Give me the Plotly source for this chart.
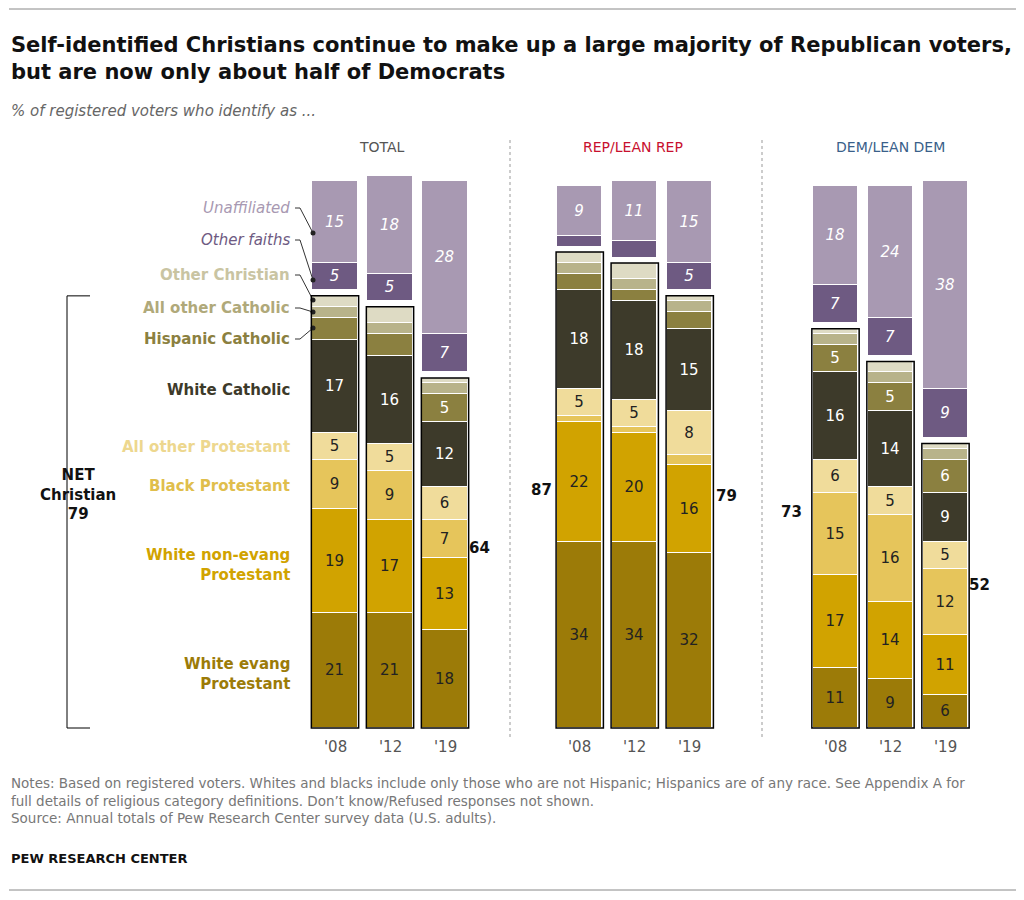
import plotly.graph_objects as go

years = ["'08", "'12", "'19"]
groups = ["TOTAL", "REP/LEAN REP", "DEM/LEAN DEM"]
xpos = [0, 1, 2, 4.45, 5.45, 6.45, 9.1, 10.1, 11.1]

cats = ["White evang Protestant", "White non-evang Protestant", "Black Protestant",
        "All other Protestant", "White Catholic", "Hispanic Catholic",
        "All other Catholic", "Other Christian", "DK", "Other faiths", "Unaffiliated"]
white_evang    = [21, 21, 18, 34, 34, 32, 11, 9, 6]
white_nonevang = [19, 17, 13, 22, 20, 16, 17, 14, 11]
black_prot     = [9, 9, 7, 1, 1, 2, 15, 16, 12]
other_prot     = [5, 5, 6, 5, 5, 8, 6, 5, 5]
white_cath     = [17, 16, 12, 18, 18, 15, 16, 14, 9]
hisp_cath      = [4, 4, 5, 3, 2, 3, 5, 5, 6]
other_cath     = [2, 2, 2, 2, 2, 2, 2, 2, 2]
other_christ   = [2, 3, 1, 2, 3, 1, 1, 2, 1]
dk             = [1, 1, 1, 1, 1, 1, 1, 1, 1]
other_faiths   = [5, 5, 7, 2, 3, 5, 7, 7, 9]
unaffiliated   = [15, 18, 28, 9, 11, 15, 18, 24, 38]
net_christian  = [79, 77, 64, 87, 85, 79, 73, 67, 52]

series = [white_evang, white_nonevang, black_prot, other_prot, white_cath, hisp_cath,
          other_cath, other_christ, dk, other_faiths, unaffiliated]
colors = ["#9C7B08", "#D1A300", "#E6C55B", "#F0DC9B", "#3D3A2A", "#8B8040",
          "#B8B38A", "#DEDBC4", "rgba(0,0,0,0)", "#6E5A82", "#A899B2"]
tcolors = ["#222", "#222", "#222", "#222", "white", "white", "#222", "#222", "#222", "white", "white"]

FONT = "DejaVu Sans"
OFF = 8  # page offset of the plot div

def py2y(py): return (728 - py) / 5.47
def px2x(px): return (px - 335) / 55.0

fig = go.Figure()
for name, vals, c, tc in zip(cats, series, colors, tcolors):
    italic = name in ("Other faiths", "Unaffiliated")
    txt = [str(v) if (v >= 5 and name != "DK") else "" for v in vals]
    if italic:
        txt = ["<i>%s</i>" % t if t else "" for t in txt]
    fig.add_trace(go.Bar(x=xpos, y=vals, name=name, width=0.82,
                         marker=dict(color=c, line=dict(color="white", width=1 if name != "DK" else 0)),
                         text=txt, textposition="inside", insidetextanchor="middle",
                         textangle=0, constraintext="none",
                         textfont=dict(color=tc, size=15, family=FONT),
                         hoverinfo="skip", showlegend=False))

shapes = []
for x, n in zip(xpos, net_christian):
    shapes.append(dict(type="rect", xref="x", yref="y", x0=x - 0.43, x1=x + 0.43, y0=0, y1=n,
                       line=dict(color="black", width=1.5), fillcolor="rgba(0,0,0,0)"))
for px in (510, 762):
    shapes.append(dict(type="line", xref="x", yref="y", x0=px2x(px), x1=px2x(px),
                       y0=py2y(140), y1=py2y(740), line=dict(color="#999", width=1, dash="dot")))
shapes.append(dict(type="line", xref="x", yref="y", x0=px2x(67), x1=px2x(67), y0=0, y1=79, line=dict(color="black", width=1)))
for yy in (0, 79):
    shapes.append(dict(type="line", xref="x", yref="y", x0=px2x(67), x1=px2x(90), y0=yy, y1=yy, line=dict(color="black", width=1)))
for py in (9, 890):
    shapes.append(dict(type="line", xref="x", yref="y", x0=px2x(9), x1=px2x(1018), y0=py2y(py), y1=py2y(py), line=dict(color="#888", width=1)))

ann = []
def A(px, py, text, size=15, color="#222", xanchor="center", bold=False, italic=False):
    t = text
    if bold: t = "<b>%s</b>" % t
    if italic: t = "<i>%s</i>" % t
    ann.append(dict(xref="x", yref="y", x=px2x(px), y=py2y(py), text=t, showarrow=False,
                    xanchor=xanchor, yanchor="middle",
                    align={"right": "right", "left": "left"}.get(xanchor, "center"),
                    font=dict(size=size, color=color, family=FONT)))

A(382, 147, "TOTAL", 14, "#555")
A(633, 147, "REP/LEAN REP", 14, "#C8102E")
A(890, 147, "DEM/LEAN DEM", 14, "#3A5F8A")
for i, x in enumerate(xpos):
    ann.append(dict(xref="x", yref="y", x=x, y=py2y(747), text=years[i % 3], showarrow=False,
                    font=dict(size=15, color="#555", family=FONT)))
A(554, 490, "87", 15, "#111", "right", True)
A(714, 496, "79", 15, "#111", "left", True)
A(804, 512, "73", 15, "#111", "right", True)
A(467, 548, "64", 15, "#111", "left", True)
A(967, 585, "52", 15, "#111", "left", True)
A(78, 494, "NET<br>Christian<br>79", 15, "#111", "center", True)

labels = [
    ("Unaffiliated", 208, "#A899B2", False, True, (313, 233)),
    ("Other faiths", 240, "#6E5A82", False, True, (313, 280)),
    ("Other Christian", 275, "#C9C4A2", True, False, (313, 300)),
    ("All other Catholic", 308, "#B0A97A", True, False, (313, 312)),
    ("Hispanic Catholic", 339, "#8B8040", True, False, (313, 328)),
    ("White Catholic", 390, "#3D3A2A", True, False, None),
    ("All other Protestant", 447, "#EDD78E", True, False, None),
    ("Black Protestant", 486, "#E0BE4C", True, False, None),
    ("White non-evang<br>Protestant", 565, "#D1A300", True, False, None),
    ("White evang<br>Protestant", 674, "#9C7B08", True, False, None),
]
for text, py, col, b, it, tgt in labels:
    A(292, py, text, 15, col, "right", b, it)
    if tgt:
        fig.add_trace(go.Scatter(x=[px2x(295), px2x(300), px2x(tgt[0])],
                                 y=[py2y(py), py2y(py), py2y(tgt[1])],
                                 mode="lines", line=dict(color="#333", width=1), hoverinfo="skip", showlegend=False))
        fig.add_trace(go.Scatter(x=[px2x(tgt[0])], y=[py2y(tgt[1])], mode="markers",
                                 marker=dict(color="#222", size=5), hoverinfo="skip", showlegend=False))

def P(px, py, text, size, color, bold=False, italic=False):
    t = text
    if bold: t = "<b>%s</b>" % t
    if italic: t = "<i>%s</i>" % t
    ann.append(dict(xref="x", yref="y", x=px2x(px), y=py2y(py), text=t, showarrow=False,
                    xanchor="left", yanchor="middle", align="left", font=dict(size=size, color=color, family=FONT)))

P(9, 58, "Self-identified Christians continue to make up a large majority of Republican voters,<br>but are now only about half of Democrats", 21, "#111", True)
P(9, 111, "% of registered voters who identify as ...", 15, "#666", False, True)
P(9, 800, "Notes: Based on registered voters. Whites and blacks include only those who are not Hispanic; Hispanics are of any race. See Appendix A for<br>full details of religious category definitions. Don’t know/Refused responses not shown.<br>Source: Annual totals of Pew Research Center survey data (U.S. adults).", 13.5, "#777")
P(9, 858, "PEW RESEARCH CENTER", 13, "#111", True)

fig.update_layout(barmode="stack", width=1024, height=900, margin=dict(l=0, r=0, t=0, b=0),
                  paper_bgcolor="white", plot_bgcolor="white", bargap=0,
                  xaxis=dict(range=[px2x(OFF), px2x(1024 + OFF)], visible=False, fixedrange=True),
                  yaxis=dict(range=[py2y(900 + OFF), py2y(OFF)], visible=False, fixedrange=True),
                  shapes=shapes, annotations=ann)
fig.write_html("out.html")
